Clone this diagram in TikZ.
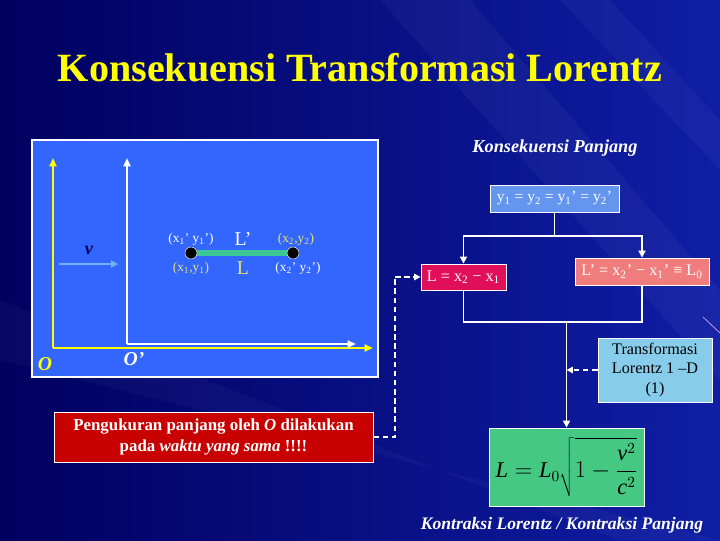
\documentclass[tikz,border=0pt]{standalone}
\usepackage{fontspec}
\setmainfont{Liberation Serif}
\usetikzlibrary{arrows.meta}
\definecolor{bgL}{RGB}{0,0,95}
\definecolor{bgR}{RGB}{15,30,165}
\definecolor{panelblue}{RGB}{51,102,255}
\definecolor{vblue}{RGB}{110,180,240}
\definecolor{barcol}{RGB}{60,200,150}
\definecolor{ycol}{RGB}{255,255,0}
\definecolor{lblyel}{RGB}{230,230,110}
\definecolor{boxY}{RGB}{100,150,240}
\definecolor{boxL}{RGB}{225,15,90}
\definecolor{boxLp}{RGB}{240,125,125}
\definecolor{boxT}{RGB}{135,205,235}
\definecolor{boxG}{RGB}{68,200,130}
\definecolor{boxR}{RGB}{200,0,0}
\definecolor{vnavy}{RGB}{0,0,90}
\tikzset{
  wbox/.style={draw=white, line width=0.6pt, inner sep=0pt, align=center},
  wline/.style={draw=white, line width=1.4pt},
  warrow/.style={wline, -{Triangle[length=5pt,width=5pt]}},
  dline/.style={draw=white, line width=1.2pt, dash pattern=on 4pt off 2.5pt},
  darrow/.style={dline, -{Triangle[length=4.5pt,width=4.5pt]}},
  dotnode/.style={circle, fill=black, draw=white, line width=0.3pt, minimum size=0.3cm, inner sep=0pt},
  axisY/.style={draw=ycol, line width=1.4pt, -{Triangle[length=6pt,width=5pt]}},
  axisW/.style={draw=white, line width=1.4pt, -{Triangle[length=6pt,width=5pt]}},
  smalllbl/.style={font=\fontsize{9.5}{11}\selectfont},
  biglbl/.style={font=\fontsize{14}{16}\selectfont},
}
\newcommand{\sbs}[1]{\textsubscript{#1}}
\begin{document}
\begin{tikzpicture}[x=0.025cm,y=-0.025cm]
\useasboundingbox (0,0) rectangle (720,540);
% background
\shade[left color=bgL, right color=bgR] (0,0) rectangle (720,540);
\fill[white, opacity=0.04] (380,0) -- (470,0) -- (720,290) -- (720,380) -- cycle;
\fill[white, opacity=0.035] (560,0) -- (610,0) -- (720,120) -- (720,170) -- cycle;
\fill[white, opacity=0.03] (0,300) -- (0,360) -- (720,540) -- (620,540) -- cycle;
\draw[draw={rgb,255:red,190;green,150;blue,230}, line width=0.6pt] (703,317) -- (720,333);

% title
\node[text=ycol] (title) at (360,68) {\fontsize{28.5}{34}\selectfont\bfseries Konsekuensi Transformasi Lorentz};

% left panel
\node[draw=white, line width=0.8pt, fill=panelblue, minimum width=8.65cm, minimum height=5.925cm, inner sep=0pt] (panel) at (205,258.5) {};
\coordinate (O) at (53,348);
\coordinate (Oy) at (53,158);
\coordinate (Ox) at (373,348);
\coordinate (Op) at (127,344);
\coordinate (Opy) at (127,158);
\coordinate (Opx) at (356,344);
\draw[axisY] (O) -- (Oy);
\draw[axisY] (O) -- (Ox);
\draw[axisW] (Op) -- (Opy);
\draw[axisW] (Op) -- (Opx);
\node[text=ycol, font=\fontsize{14}{16}\selectfont\bfseries\itshape] (Olbl) at (45,364) {O};
\node[text=white, font=\fontsize{14}{16}\selectfont\bfseries\itshape] (Oplbl) at (134,359) {O’};
% v
\node[text=vnavy, font=\fontsize{13}{15}\selectfont\bfseries\itshape] (vlbl) at (89,250) {v};
\coordinate (va) at (59,264);
\coordinate (vb) at (118,264);
\draw[draw=vblue, line width=1.4pt, -{Triangle[length=5pt,width=5pt]}] (va) -- (vb);
% rod
\coordinate (c1) at (191,253);
\coordinate (c2) at (293,253);
\draw[draw=barcol, line width=4.3pt] (c1) -- (c2);
\node[dotnode] (p1) at (c1) {};
\node[dotnode] (p2) at (c2) {};
\node[text=white, smalllbl] (l1p) at (191,239) {(x\sbs{1}’ y\sbs{1}’)};
\node[text=lblyel, smalllbl] (l1) at (191,268) {(x\sbs{1},y\sbs{1})};
\node[text=white, biglbl] (Lp) at (243,239) {L’};
\node[text=lblyel, biglbl] (L) at (243,268) {L};
\node[text=lblyel, smalllbl] (l2) at (296,239) {(x\sbs{2},y\sbs{2})};
\node[text=white, smalllbl] (l2p) at (298,268) {(x\sbs{2}’ y\sbs{2}’)};

% red box
\node[wbox, fill=boxR, text=white, minimum width=7.975cm, minimum height=1.25cm, font=\fontsize{12}{14.5}\selectfont\bfseries] (rbox) at (213.5,437) {Pengukuran panjang oleh \textit{O} dilakukan\\pada \textit{waktu yang sama} !!!!};

% right side
\node[text=white, font=\fontsize{13}{15}\selectfont\bfseries\itshape] (kp) at (555,148) {Konsekuensi Panjang};
\node[wbox, fill=boxY, text=white, minimum width=3.225cm, minimum height=0.675cm, font=\fontsize{11}{13}\selectfont] (ybox) at (554.5,198.5) {y\sbs{1} = y\sbs{2} = y\sbs{1}’ = y\sbs{2}’};
\node[wbox, fill=boxL, text=white, minimum width=2.125cm, minimum height=0.65cm, font=\fontsize{11.5}{13}\selectfont] (Lbox) at (463.5,277) {L = x\sbs{2} − x\sbs{1}};
\node[wbox, fill=boxLp, text=white, minimum width=3.35cm, minimum height=0.675cm, font=\fontsize{11.5}{13}\selectfont] (Lpbox) at (642,271.5) {L’ = x\sbs{2}’ − x\sbs{1}’ ≡ L\sbs{0}};
\node[wbox, fill=boxT, text=black, minimum width=2.85cm, minimum height=1.6cm, font=\fontsize{11.5}{14}\selectfont] (Tbox) at (655,370) {Transformasi\\Lorentz 1 –D\\(1)};
\node[wbox, fill=boxG, text=black, minimum width=3.875cm, minimum height=1.95cm, font=\fontsize{16}{19}\selectfont] (gbox) at (566.5,467) {$\displaystyle \textit{L} = \textit{L}_0\sqrt{1-\frac{\textit{v}^2}{\textit{c}^2}}$};
\node[text=white, font=\fontsize{12.5}{15}\selectfont\bfseries\itshape] (kl) at (562,525) {Kontraksi Lorentz / Kontraksi Panjang};

\coordinate (j1) at (554.5,236);
\coordinate (j2) at (566.5,322);
\draw[wline] (ybox.south) -- (j1);
\draw[warrow] (j1) -| (Lbox.north);
\draw[warrow] (j1) -| (Lpbox.north);
\draw[wline] (Lbox.south) |- (j2);
\draw[wline] (Lpbox.south) |- (j2);
\draw[warrow] (j2) -- (j2 |- gbox.north);
\draw[darrow] (Tbox.west) -- (Tbox.west -| j2);
\coordinate (d1) at (395,277);
\draw[dline] (rbox.east) -| (d1);
\draw[darrow] (d1) -- (Lbox.west);
\end{tikzpicture}
\end{document}
